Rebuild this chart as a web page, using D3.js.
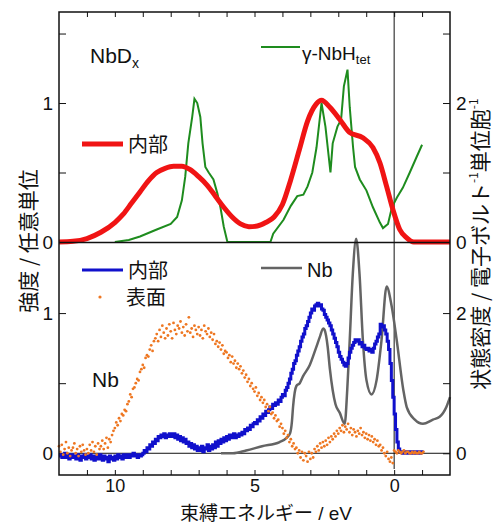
<html>
  <head>
    <title>NbDx / Nb spectra</title>
    <script src="https://d3js.org/d3.v7.min.js"></script>
    <style>
      body { margin: 0; background: #fff; }
      text { font-family: "Liberation Sans", Arial, sans-serif; fill: #111; }
      .jp { font-family: "Noto Sans CJK JP", sans-serif; }
      .axis path { display: none; }
      .axis line { stroke: #111; stroke-width: 1; }
      .axis text { font-size: 19px; font-family: "Liberation Sans", Arial, sans-serif; fill: #111; }
    </style>
  </head>
  <body>
    <svg id="chart" width="493" height="526"></svg>
    <script>
      // --- data ---
      // top panel: NbDx interior (left axis, arb. units)
      const nbdInterior = [
        [12, 0], [11.5, 0.005], [11, 0.025], [10.5, 0.07], [10, 0.14], [9.7, 0.2],
        [9.4, 0.28], [9.1, 0.36], [8.8, 0.44], [8.5, 0.5], [8.2, 0.53], [7.9, 0.545],
        [7.6, 0.545], [7.3, 0.52], [7, 0.47], [6.7, 0.41], [6.4, 0.33], [6.1, 0.25],
        [5.8, 0.18], [5.5, 0.13], [5.2, 0.11], [4.9, 0.115], [4.6, 0.14], [4.3, 0.18],
        [4.0, 0.27], [3.7, 0.45], [3.4, 0.66], [3.1, 0.87], [2.8, 0.99], [2.6, 1.02],
        [2.3, 0.97], [1.94, 0.88], [1.6, 0.79], [1.12, 0.75], [0.76, 0.68], [0.51, 0.57],
        [0.27, 0.4], [0.04, 0.23], [-0.2, 0.09], [-0.45, 0.03], [-0.7, 0], [-2, 0]
      ];
      // top panel: gamma-NbH_tet DOS (right axis, states / eV / cell)
      const nbhDos = [
        [10.0, 0], [9.5, 0.03], [9.1, 0.08], [8.5, 0.18], [8.0, 0.26], [7.77, 0.36],
        [7.6, 0.6], [7.48, 0.94], [7.37, 1.42], [7.23, 1.8], [7.15, 2.06], [7.05, 2.0],
        [6.94, 1.8], [6.86, 1.42], [6.76, 1.08], [6.64, 1.0], [6.47, 0.9], [6.33, 0.7],
        [6.22, 0.5], [6.1, 0.22], [5.97, 0], [4.43, 0], [4.33, 0.12], [3.96, 0.32],
        [3.7, 0.52], [3.47, 0.66], [3.25, 0.68], [3.1, 0.8], [2.93, 1.0], [2.78, 1.36],
        [2.6, 2.0], [2.46, 1.66], [2.28, 1.0], [2.2, 1.42], [2.03, 1.66], [1.9, 1.76],
        [1.8, 2.24], [1.67, 2.48], [1.59, 1.94], [1.47, 1.36], [1.4, 1.08], [1.23, 0.9],
        [0.99, 0.74], [0.76, 0.5], [0.51, 0.28], [0.4, 0.2], [0.22, 0.26], [0.08, 0.5],
        [-0.1, 0.64], [-0.31, 0.78], [-0.56, 1.0], [-0.8, 1.22], [-1.0, 1.4]
      ];
      // bottom panel: Nb DOS (right axis)
      const nbDos = [
        [6.2, 0], [5.77, 0.0], [5.3, 0.04], [4.73, 0.1], [4.1, 0.16], [3.85, 0.22],
        [3.73, 0.28], [3.66, 0.45], [3.62, 0.66], [3.5, 0.96], [3.38, 1.0], [3.26, 1.1],
        [3.02, 1.26], [2.8, 1.5], [2.66, 1.66], [2.54, 1.78], [2.49, 1.76], [2.38, 1.52],
        [2.3, 1.2], [2.2, 0.9], [2.1, 0.7], [1.95, 0.58], [1.77, 0.42], [1.68, 0.9],
        [1.59, 1.62], [1.48, 2.56], [1.36, 3.06], [1.24, 2.56], [1.12, 1.62], [0.99, 1.04],
        [0.81, 0.84], [0.63, 1.04], [0.45, 1.62], [0.27, 2.38], [0.09, 2.1], [-0.09, 1.62],
        [-0.33, 0.9], [-0.45, 0.66], [-0.74, 0.48], [-1.03, 0.42], [-1.39, 0.48],
        [-1.63, 0.52], [-1.87, 0.66], [-2.0, 0.8]
      ];
      // bottom panel measured spectra, sampled every 0.05 eV from 12 eV
      const scanStart = 12, scanStep = 0.05;
      const nbInterior = [
        -0.02, -0.01, -0.03, -0.02, 0.00, -0.03, -0.01, -0.04, -0.02, -0.01,
        -0.03, -0.02, -0.04, -0.01, -0.03, -0.05, -0.02, -0.03, -0.01, -0.04,
        -0.02, -0.03, -0.01, -0.04, -0.02, -0.05, -0.03, -0.02, -0.04, -0.01,
        -0.03, -0.05, -0.02, -0.04, -0.03, -0.06, -0.02, -0.04, -0.03, -0.05,
        -0.02, -0.04, -0.01, -0.03, -0.02, -0.04, -0.01, -0.03, -0.02, -0.01,
        -0.03, -0.01, -0.02, 0.00, -0.02, -0.01, -0.03, -0.01, -0.02, -0.01,
        0.00, 0.02, 0.01, 0.04, 0.03, 0.06, 0.05, 0.08, 0.07, 0.10,
        0.09, 0.12, 0.11, 0.13, 0.12, 0.14, 0.11, 0.13, 0.12, 0.14,
        0.13, 0.12, 0.14, 0.11, 0.13, 0.10, 0.12, 0.09, 0.11, 0.08,
        0.10, 0.07, 0.08, 0.05, 0.07, 0.04, 0.06, 0.03, 0.05, 0.02,
        0.04, 0.02, 0.05, 0.01, 0.04, 0.03, 0.06, 0.02, 0.05, 0.03,
        0.06, 0.04, 0.08, 0.05, 0.09, 0.07, 0.10, 0.08, 0.11, 0.09,
        0.12, 0.10, 0.13, 0.11, 0.12, 0.14, 0.11, 0.13, 0.12, 0.14,
        0.13, 0.15, 0.14, 0.17, 0.16, 0.18, 0.17, 0.20, 0.19, 0.21,
        0.22, 0.21, 0.24, 0.23, 0.26, 0.25, 0.28, 0.27, 0.30, 0.29,
        0.31, 0.33, 0.32, 0.35, 0.34, 0.36, 0.35, 0.38, 0.37, 0.40,
        0.42, 0.41, 0.45, 0.47, 0.50, 0.53, 0.57, 0.60, 0.64, 0.66,
        0.70, 0.73, 0.76, 0.80, 0.83, 0.85, 0.89, 0.91, 0.94, 0.97,
        1.00, 1.03, 1.02, 1.05, 1.06, 1.07, 1.05, 1.06, 1.03, 1.02,
        0.99, 0.97, 0.95, 0.93, 0.91, 0.88, 0.85, 0.82, 0.79, 0.76,
        0.72, 0.69, 0.67, 0.65, 0.63, 0.62, 0.64, 0.68, 0.72, 0.75,
        0.77, 0.79, 0.81, 0.80, 0.81, 0.78, 0.79, 0.76, 0.77, 0.75,
        0.74, 0.75, 0.73, 0.74, 0.72, 0.75, 0.78, 0.80, 0.83, 0.85,
        0.92, 0.90, 0.91, 0.88, 0.85, 0.80, 0.74, 0.64, 0.52, 0.40,
        0.28, 0.17, 0.08, 0.03, 0.01, 0.01, 0.00, 0.01, 0.00, 0.01,
        0.00, 0.01, 0.00, 0.00, 0.01, 0.00, 0.01, 0.00, 0.00, 0.01,
        0.00
      ];
      const nbSurface = [
        0.05, 0.01, 0.06, -0.01, 0.03, 0.08, 0.00, 0.04, -0.02, 0.02,
        0.04, 0.07, 0.00, 0.03, -0.02, 0.05, 0.01, 0.06, 0.02, -0.01,
        0.03, 0.00, 0.06, 0.02, 0.08, 0.01, 0.05, -0.01, 0.07, 0.03,
        0.05, 0.09, 0.03, 0.07, 0.11, 0.04, 0.10, 0.08, 0.13, 0.16,
        0.18, 0.22, 0.20, 0.25, 0.23, 0.28, 0.27, 0.31, 0.30, 0.35,
        0.37, 0.42, 0.40, 0.46, 0.47, 0.50, 0.53, 0.52, 0.58, 0.60,
        0.63, 0.61, 0.68, 0.70, 0.69, 0.74, 0.77, 0.73, 0.80, 0.82,
        0.85, 0.80, 0.88, 0.83, 0.91, 0.86, 0.82, 0.89, 0.84, 0.92,
        0.87, 0.82, 0.93, 0.88, 0.85, 0.91, 0.89, 0.94, 0.86, 0.90,
        0.84, 0.92, 0.87, 0.97, 0.86, 0.89, 0.83, 0.91, 0.88, 0.85,
        0.90, 0.84, 0.88, 0.82, 0.91, 0.87, 0.85, 0.89, 0.83, 0.86,
        0.81, 0.85, 0.78, 0.80, 0.76, 0.79, 0.74, 0.77, 0.71, 0.73,
        0.72, 0.68, 0.70, 0.65, 0.69, 0.64, 0.66, 0.61, 0.64, 0.60,
        0.62, 0.57, 0.59, 0.54, 0.56, 0.51, 0.53, 0.48, 0.50, 0.46,
        0.44, 0.47, 0.41, 0.43, 0.38, 0.40, 0.36, 0.38, 0.33, 0.35,
        0.30, 0.33, 0.28, 0.29, 0.25, 0.27, 0.23, 0.24, 0.19, 0.21,
        0.18, 0.14, 0.16, 0.11, 0.13, 0.08, 0.10, 0.05, 0.07, 0.03,
        0.04, 0.00, 0.02, -0.03, 0.01, -0.05, 0.00, -0.02, -0.06, 0.01,
        -0.04, 0.00, -0.03, 0.03, 0.01, 0.05, 0.02, 0.07, 0.04, 0.08,
        0.05, 0.09, 0.06, 0.11, 0.08, 0.12, 0.10, 0.14, 0.12, 0.16,
        0.14, 0.18, 0.16, 0.20, 0.15, 0.19, 0.17, 0.21, 0.15, 0.18,
        0.13, 0.17, 0.15, 0.12, 0.16, 0.14, 0.18, 0.13, 0.15, 0.11,
        0.14, 0.10, 0.13, 0.09, 0.12, 0.08, 0.10, 0.06, 0.09, 0.05,
        0.06, 0.02, 0.04, 0.00, -0.02, 0.01, -0.04, -0.06, -0.03, -0.07,
        0.02, 0.01, 0.00, 0.02, 0.01, 0.00, 0.01, 0.02, 0.00, 0.01,
        0.01, 0.00, 0.00, 0.01, 0.00, 0.01, 0.00, 0.00, 0.01, 0.00,
        0.00, 0.01
      ];
      const energyTicks = [11, 10, 9, 8, 7, 6, 5, 4, 3, 2, 1, 0, -1];
      const energyLabels = [10, 5, 0];

      const svg = d3.select("#chart");
      const plotL = 59, plotR = 450, plotT = 12, plotM = 242.5, plotB = 475;

      // scales
      const x = d3.scaleLinear().domain([12, -2]).range([plotL, plotR]);
      const yTop = d3.scaleLinear().domain([0, 1.655]).range([242, plotT]);
      const yTopR = d3.scaleLinear().domain([0, 3.31]).range([242, plotT]);
      const yBot = d3.scaleLinear().domain([-0.155, 1.5]).range([plotB, 243]);
      const yBotR = d3.scaleLinear().domain([-0.31, 3.0]).range([plotB, 243]);

      const scan = (vals) => vals.map((v, i) => [scanStart - i * scanStep, v]);

      // axes (ticks point inward)
      const labelIf = (list) => (d) => (list.includes(d) ? d : "");
      svg.append("g").attr("class", "axis")
        .attr("transform", `translate(${plotL},0)`)
        .call(d3.axisLeft(yTop).tickValues([0, 0.5, 1, 1.5]).tickFormat(labelIf([0, 1])).tickSize(-7).tickPadding(6));
      svg.append("g").attr("class", "axis")
        .attr("transform", `translate(${plotR},0)`)
        .call(d3.axisRight(yTopR).tickValues([0, 1, 2, 3]).tickFormat(labelIf([0, 2])).tickSize(-7).tickPadding(6));
      svg.append("g").attr("class", "axis")
        .attr("transform", `translate(${plotL},0)`)
        .call(d3.axisLeft(yBot).tickValues([0, 0.5, 1]).tickFormat(labelIf([0, 1])).tickSize(-7).tickPadding(6));
      svg.append("g").attr("class", "axis")
        .attr("transform", `translate(${plotR},0)`)
        .call(d3.axisRight(yBotR).tickValues([0, 1, 2]).tickFormat(labelIf([0, 2])).tickSize(-7).tickPadding(6));
      svg.append("g").attr("class", "axis")
        .attr("transform", `translate(0,${plotT})`)
        .call(d3.axisTop(x).tickValues(energyTicks).tickFormat("").tickSize(-5));
      svg.append("g").attr("class", "axis")
        .attr("transform", `translate(0,${plotB})`)
        .call(d3.axisBottom(x).tickValues(energyTicks).tickFormat(labelIf(energyLabels)).tickSize(-5).tickPadding(4))
        .selectAll("text").style("font-size", "18px");

      // reference lines
      svg.append("line")
        .attr("x1", plotL).attr("x2", plotR)
        .attr("y1", yBot(0)).attr("y2", yBot(0))
        .attr("stroke", "#111").attr("stroke-width", 1);
      svg.append("line")
        .attr("x1", x(0)).attr("x2", x(0))
        .attr("y1", plotT).attr("y2", plotB - 6)
        .attr("stroke", "#111").attr("stroke-width", 1);

      // curves
      const lineTop = d3.line().x((d) => x(d[0])).y((d) => yTop(d[1])).curve(d3.curveMonotoneX);
      const lineTopR = d3.line().x((d) => x(d[0])).y((d) => yTopR(d[1]));
      const lineBotR = d3.line().x((d) => x(d[0])).y((d) => yBotR(d[1])).curve(d3.curveMonotoneX);
      const lineBot = d3.line().x((d) => x(d[0])).y((d) => yBot(d[1])).curve(d3.curveStepAfter);

      svg.append("path").attr("d", lineTopR(nbhDos))
        .attr("fill", "none").attr("stroke", "#1e8c1e").attr("stroke-width", 2);
      svg.append("path").attr("d", lineTop(nbdInterior))
        .attr("fill", "none").attr("stroke", "#f01414").attr("stroke-width", 5);

      svg.append("path").attr("d", lineBotR(nbDos))
        .attr("fill", "none").attr("stroke", "#646464").attr("stroke-width", 2.5);
      svg.append("path").attr("d", lineBot(scan(nbInterior)))
        .attr("fill", "none").attr("stroke", "#1010cc").attr("stroke-width", 3);
      svg.append("g").selectAll("circle")
        .data(scan(nbSurface))
        .join("circle")
        .attr("cx", (d) => x(d[0]))
        .attr("cy", (d) => yBot(d[1]))
        .attr("r", 1.4)
        .attr("fill", "#ee7722");

      // frame + panel divider
      svg.append("rect")
        .attr("x", plotL).attr("y", plotT)
        .attr("width", plotR - plotL).attr("height", plotB - plotT)
        .attr("fill", "none").attr("stroke", "#111").attr("stroke-width", 1.5);
      svg.append("line")
        .attr("x1", plotL).attr("x2", plotR)
        .attr("y1", plotM).attr("y2", plotM)
        .attr("stroke", "#111").attr("stroke-width", 1.5);

      // legends and labels
      const nbd = svg.append("text").attr("x", 90).attr("y", 63).attr("font-size", 21).text("NbD");
      nbd.append("tspan").attr("font-size", 14).attr("dy", 5).text("x");

      svg.append("line").attr("x1", 82).attr("x2", 123).attr("y1", 144).attr("y2", 144)
        .attr("stroke", "#f01414").attr("stroke-width", 5);
      svg.append("text").attr("class", "jp").attr("x", 128).attr("y", 152).attr("font-size", 20).text("内部");

      svg.append("line").attr("x1", 261).attr("x2", 300).attr("y1", 47).attr("y2", 47)
        .attr("stroke", "#1e8c1e").attr("stroke-width", 2);
      const nbh = svg.append("text").attr("x", 302).attr("y", 60).attr("font-size", 19).text("γ-NbH");
      nbh.append("tspan").attr("font-size", 13).attr("dy", 4).text("tet");

      svg.append("line").attr("x1", 82).attr("x2", 123).attr("y1", 270).attr("y2", 270)
        .attr("stroke", "#1010cc").attr("stroke-width", 3);
      svg.append("text").attr("class", "jp").attr("x", 128).attr("y", 278).attr("font-size", 20).text("内部");
      svg.append("circle").attr("cx", 100).attr("cy", 297).attr("r", 1.6).attr("fill", "#ee7722");
      svg.append("text").attr("class", "jp").attr("x", 126).attr("y", 305).attr("font-size", 20).text("表面");

      svg.append("line").attr("x1", 261).attr("x2", 302).attr("y1", 268).attr("y2", 268)
        .attr("stroke", "#646464").attr("stroke-width", 2.5);
      svg.append("text").attr("x", 307).attr("y", 277).attr("font-size", 20).text("Nb");

      svg.append("text").attr("x", 92).attr("y", 387).attr("font-size", 21).text("Nb");

      // axis titles
      const xt = svg.append("text").attr("x", 266).attr("y", 520)
        .attr("text-anchor", "middle").attr("font-size", 19);
      xt.append("tspan").attr("class", "jp").text("束縛エネルギー");
      xt.append("tspan").text(" / eV");

      svg.append("text").attr("class", "jp")
        .attr("transform", "translate(27,241) rotate(-90)")
        .attr("text-anchor", "middle").attr("dominant-baseline", "central")
        .attr("font-size", 21).text("強度 / 任意単位");

      const yr = svg.append("text").attr("class", "jp")
        .attr("transform", "translate(479,244) rotate(-90)")
        .attr("text-anchor", "middle").attr("dominant-baseline", "central")
        .attr("font-size", 21);
      yr.append("tspan").text("状態密度 / 電子ボルト");
      yr.append("tspan").attr("font-size", 12).attr("dy", -7).text("-1");
      yr.append("tspan").attr("dy", 7).text("単位胞");
      yr.append("tspan").attr("font-size", 12).attr("dy", -7).text("-1");
    </script>
  </body>
</html>
